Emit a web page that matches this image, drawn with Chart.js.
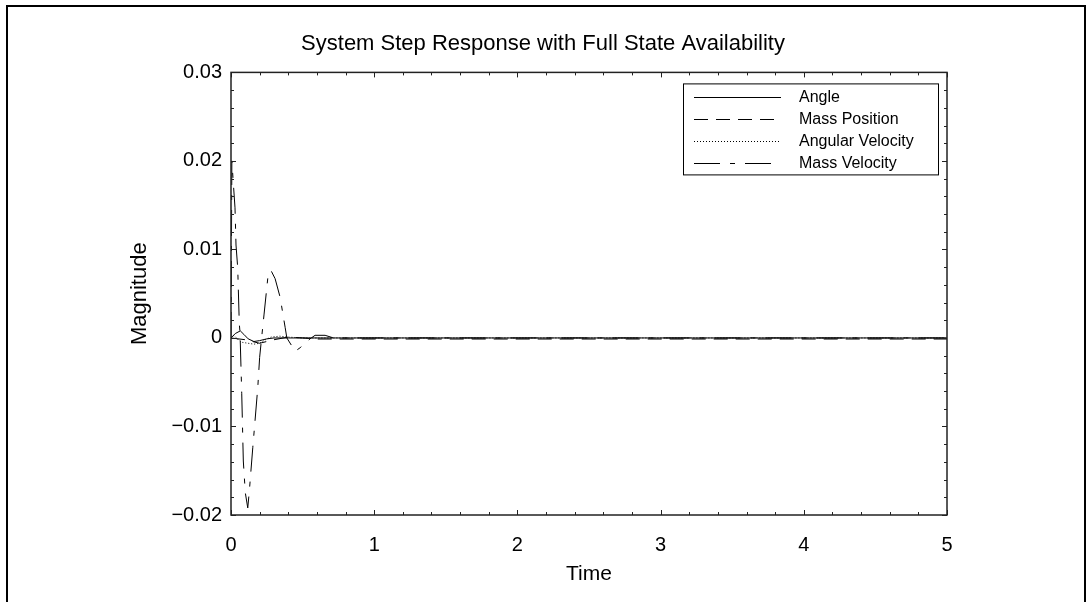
<!DOCTYPE html>
<html>
<head>
<meta charset="utf-8">
<script src="https://cdn.jsdelivr.net/npm/chart.js@4.4.0/dist/chart.umd.min.js"></script>
<style>
  html, body { margin: 0; padding: 0; background: #fff; overflow: hidden; }
  #frame { position: absolute; left: 6px; top: 5px; width: 1076px; height: 640px; border: 2px solid #000; border-bottom: none; }
  #myChart { position: absolute; left: 0; top: 0; }
</style>
</head>
<body>
<div id="frame"></div>
<canvas id="myChart" width="1086" height="602"></canvas>
<script>
'use strict';
// series names
const seriesNames = ['Angle', 'Mass Position', 'Angular Velocity', 'Mass Velocity'];

// Angle (solid)
const angleTime = [0, 0.03, 0.065, 0.09, 0.12, 0.16, 0.2, 0.25, 0.3, 0.4, 5];
const angleVals = [0, 0.0005, 0.0008, 0.0004, -0.0001, -0.0004, -0.0003, -0.0001, 0, 0, 0];

// Mass Position (dashed)
const massPosTime = [0, 0.1, 0.2, 0.3, 0.4, 0.5, 0.6, 5];
const massPosVals = [0, -0.0002, -0.0006, -0.0002, 0.0001, 0, -0.00012, -0.00012];

// Angular Velocity (dotted)
const angVelTime = [0, 0.02, 0.05, 0.08, 0.12, 0.16, 0.2, 0.24, 0.28, 0.34, 0.4, 0.5, 5];
const angVelVals = [0, 0.0003, -0.0002, -0.0005, -0.0006, -0.0007, -0.0006, -0.0002, 0.0001, 0.0002, 0.0001, 0, 0];

// Mass Velocity (dash-dot)
const massVelTime = [0, 0.006, 0.015, 0.028, 0.035, 0.047, 0.058, 0.063, 0.075, 0.086, 0.1, 0.117, 0.128, 0.152, 0.164, 0.187, 0.2, 0.215, 0.231, 0.261, 0.28, 0.308, 0.343, 0.378, 0.39, 0.448, 0.483, 0.552, 0.587, 0.657, 0.716, 5];
const massVelVals = [0, 0.02, 0.0178, 0.0147, 0.0105, 0.0079, 0.0016, 0.0006, -0.0063, -0.0139, -0.0175, -0.0192, -0.0173, -0.0124, -0.0101, -0.0056, -0.0022, 0.0002, 0.0027, 0.0074, 0.0076, 0.0067, 0.0046, 0.0012, 0, -0.0015, -0.0011, -0.0001, 0.0003, 0.0003, 0, 0];

// axis ticks
const xTicks = [0, 1, 2, 3, 4, 5];
const yTicks = [-0.02, -0.01, 0, 0.01, 0.02, 0.03];

const dashes = [[], [14, 8], [1, 2], [26, 10, 5, 10]];
const fontFam = "'Liberation Sans', Arial, sans-serif";

function toPoints(ts, vs) {
  let pts = [];
  for (let i = 0; i < ts.length; i++) { pts.push({x: ts[i], y: vs[i]}); }
  return pts;
}
const allData = [
  toPoints(angleTime, angleVals),
  toPoints(massPosTime, massPosVals),
  toPoints(angVelTime, angVelVals),
  toPoints(massVelTime, massVelVals)
];

function fmtY(v) {
  if (Math.abs(v) < 1e-9) return '0';
  let s = Math.abs(v).toFixed(2);
  return (v < 0 ? '\u2212' : '') + s;
}

// frame, inward ticks and legend box
const framePlugin = {
  id: 'framePlugin',
  afterDraw(chart) {
    const ctx = chart.ctx;
    const a = chart.chartArea;
    const xs = chart.scales.x;
    const ys = chart.scales.y;
    ctx.save();
    ctx.strokeStyle = '#222';
    ctx.lineWidth = 1;
    ctx.beginPath();
    for (let i = 0; i <= 25; i++) {
      let v = i * 0.2;
      let px = Math.round(xs.getPixelForValue(v)) + 0.5;
      let len = (i % 5 === 0) ? 5 : 3;
      ctx.moveTo(px, a.bottom); ctx.lineTo(px, a.bottom - len);
      ctx.moveTo(px, a.top); ctx.lineTo(px, a.top + len);
    }
    for (let i = 0; i <= 25; i++) {
      let v = -0.02 + i * 0.002;
      let py = Math.round(ys.getPixelForValue(v)) + 0.5;
      let len = (i % 5 === 0) ? 5 : 3;
      ctx.moveTo(a.left, py); ctx.lineTo(a.left + len, py);
      ctx.moveTo(a.right, py); ctx.lineTo(a.right - len, py);
    }
    ctx.stroke();
    ctx.lineWidth = 1.5;
    ctx.strokeRect(a.left, a.top, a.right - a.left, a.bottom - a.top);

    // legend
    const bx = a.right - 264, by = a.top + 11, bw = 255, bh = 91;
    ctx.fillStyle = '#fff';
    ctx.fillRect(bx, by, bw, bh);
    ctx.lineWidth = 1;
    ctx.strokeStyle = '#000';
    ctx.strokeRect(bx + 0.5, by + 0.5, bw, bh);
    ctx.font = '16px ' + fontFam;
    ctx.textBaseline = 'middle';
    ctx.fillStyle = '#000';
    for (let i = 0; i < seriesNames.length; i++) {
      let yy = Math.round(by + 14 + i * 21.7) + 0.5;
      ctx.setLineDash(dashes[i]);
      ctx.beginPath();
      ctx.moveTo(bx + 11, yy);
      ctx.lineTo(bx + 98, yy);
      ctx.stroke();
      ctx.setLineDash([]);
      ctx.fillText(seriesNames[i], bx + 116, yy);
    }
    ctx.restore();
  }
};

const ctx = document.getElementById('myChart').getContext('2d');
const myChart = new Chart(ctx, {
  type: 'line',
  data: {
    datasets: seriesNames.map((name, i) => ({
      label: name,
      data: allData[i],
      yAxisID: 'y',
      borderColor: '#000',
      borderWidth: 1,
      borderDash: dashes[i],
      pointRadius: 0,
      tension: 0,
      fill: false
    }))
  },
  options: {
    responsive: false,
    animation: false,
    layout: { padding: 0 },
    plugins: {
      legend: { display: false },
      tooltip: { enabled: false },
      title: {
        display: true,
        text: 'System Step Response with Full State Availability',
        color: '#000',
        font: { family: fontFam, size: 22, weight: 'normal', lineHeight: 1.2 },
        padding: { top: 31, bottom: 15 }
      }
    },
    scales: {
      x: {
        type: 'linear',
        min: 0,
        max: 5,
        grid: { display: false, drawTicks: false },
        border: { display: false },
        afterBuildTicks: (scale) => { scale.ticks = xTicks.map(v => ({value: v})); },
        afterFit: (scale) => { scale.height = 87; },
        ticks: { color: '#000', padding: 18, maxRotation: 0, font: { family: fontFam, size: 20 } },
        title: { display: true, text: 'Time', color: '#000', font: { family: fontFam, size: 21 }, padding: { top: 4, bottom: 15 } }
      },
      y: {
        type: 'linear',
        min: -0.02,
        max: 0.03,
        grid: { display: false, drawTicks: false },
        border: { display: false },
        afterBuildTicks: (scale) => { scale.ticks = yTicks.map(v => ({value: v})); },
        afterFit: (scale) => { scale.width = 231; },
        ticks: { color: '#000', padding: 9, callback: (v) => fmtY(v), font: { family: fontFam, size: 20 } },
        title: { display: true, text: 'Magnitude', color: '#000', font: { family: fontFam, size: 22 }, padding: { top: 127, bottom: 0 } }
      },
      yRight: {
        type: 'linear',
        position: 'right',
        min: -0.02,
        max: 0.03,
        grid: { display: false, drawTicks: false },
        border: { display: false },
        ticks: { display: false },
        afterFit: (scale) => { scale.width = 139; }
      }
    }
  },
  plugins: [framePlugin]
});
</script>
</body>
</html>
